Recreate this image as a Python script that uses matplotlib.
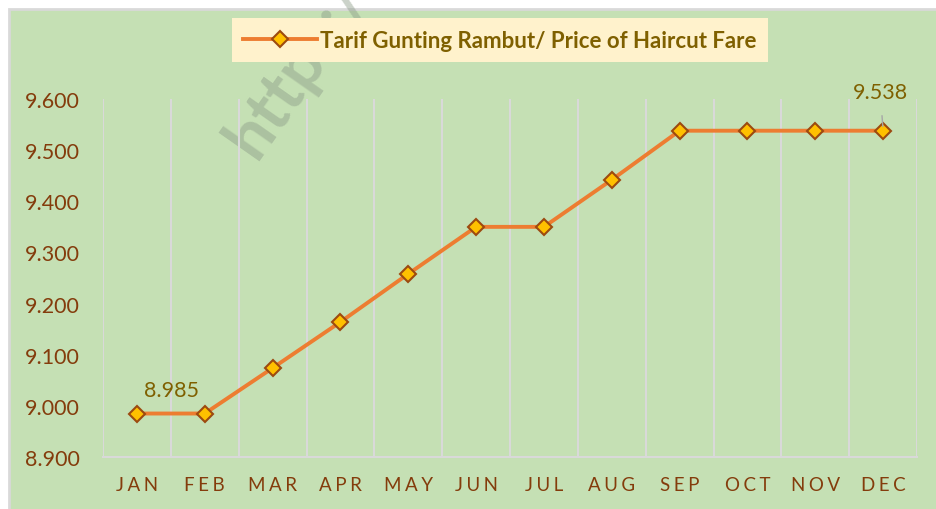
import matplotlib.pyplot as plt
import matplotlib.patches as patches

months = ["JAN", "FEB", "MAR", "APR", "MAY", "JUN",
          "JUL", "AUG", "SEP", "OCT", "NOV", "DEC"]
prices = [8.985, 8.985, 9.074, 9.164, 9.258, 9.350,
          9.350, 9.442, 9.538, 9.538, 9.538, 9.538]
series_name = "Tarif Gunting Rambut/ Price of Haircut Fare"

plt.rcParams['font.family'] = ['Lato', 'DejaVu Sans']

fig = plt.figure(figsize=(9.36, 5.10), dpi=100)
fig.patch.set_facecolor("white")

# green chart area with light gray border
bg = patches.Rectangle((8.5 / 936, -0.01), 1.0, (510 - 10) / 510 + 0.01,
                       transform=fig.transFigure, facecolor="#C5E0B4",
                       edgecolor="#D9D9D9", linewidth=2, zorder=-10)
fig.patches.append(bg)

# faint watermark (sits behind the plot)
fig.text(215 / 936, 1 - 168 / 510, "https://b", rotation=55, fontsize=48,
         fontweight="bold", color="#8C9C88", alpha=0.45, ha="left", va="bottom",
         zorder=-5)

ax = fig.add_axes([103 / 936, 52 / 510, (917 - 103) / 936, (458 - 100) / 510])
ax.set_facecolor("none")

x = list(range(len(months)))
ax.plot(x, prices, color="#ED7D31", linewidth=2.8, marker="D", markersize=8,
        markerfacecolor="#FFC000", markeredgecolor="#9C4A10",
        markeredgewidth=1.5, label=series_name, zorder=3)

ax.set_xlim(-0.5, len(months) - 0.5)
ax.set_ylim(8.9, 9.6)
ax.set_yticks([8.9, 9.0, 9.1, 9.2, 9.3, 9.4, 9.5, 9.6])
ax.set_yticklabels([f"{v:.3f}" for v in ax.get_yticks()])
ax.set_xticks(x)
ax.set_xticklabels(["\u2009\u200a".join(m) for m in months])

for xv in [i + 0.5 for i in range(-1, len(months))]:
    ax.axvline(xv, color="#D9D9D9", linewidth=1.5, zorder=1)

for side in ["top", "right", "left"]:
    ax.spines[side].set_visible(False)
ax.spines["bottom"].set_color("#D9D9D9")
ax.spines["bottom"].set_linewidth(1.5)

ax.tick_params(axis="y", length=0, pad=17, labelsize=15.5, labelcolor="#843C0C")
ax.tick_params(axis="x", length=0, pad=14, labelsize=13.5, labelcolor="#843C0C")

# data labels
ax.annotate(f"{prices[0]:.3f}", (x[0], prices[0]), xytext=(25, 17),
            textcoords="offset points", ha="center", va="center",
            fontsize=15.5, color="#7F6000")
ax.annotate(f"{prices[-1]:.3f}", (x[-1], prices[-1]), xytext=(-2, 28),
            textcoords="offset points", ha="center", va="center",
            fontsize=15.5, color="#7F6000",
            arrowprops=dict(arrowstyle="-", color="#A6A6A6", lw=1,
                            shrinkA=8, shrinkB=3))

leg = ax.legend(loc="center", bbox_to_anchor=(500 / 936, 1 - 41 / 510),
                bbox_transform=fig.transFigure, frameon=True, fancybox=False,
                handlelength=3.3, handletextpad=0.15, borderpad=0.5,
                borderaxespad=0, prop={"size": 16, "weight": "bold"})
leg.get_frame().set_facecolor("#FFF2CC")
leg.get_frame().set_edgecolor("none")
leg.get_frame().set_alpha(1)
for t in leg.get_texts():
    t.set_color("#7F6000")

fig.savefig("out.png", dpi=100)
